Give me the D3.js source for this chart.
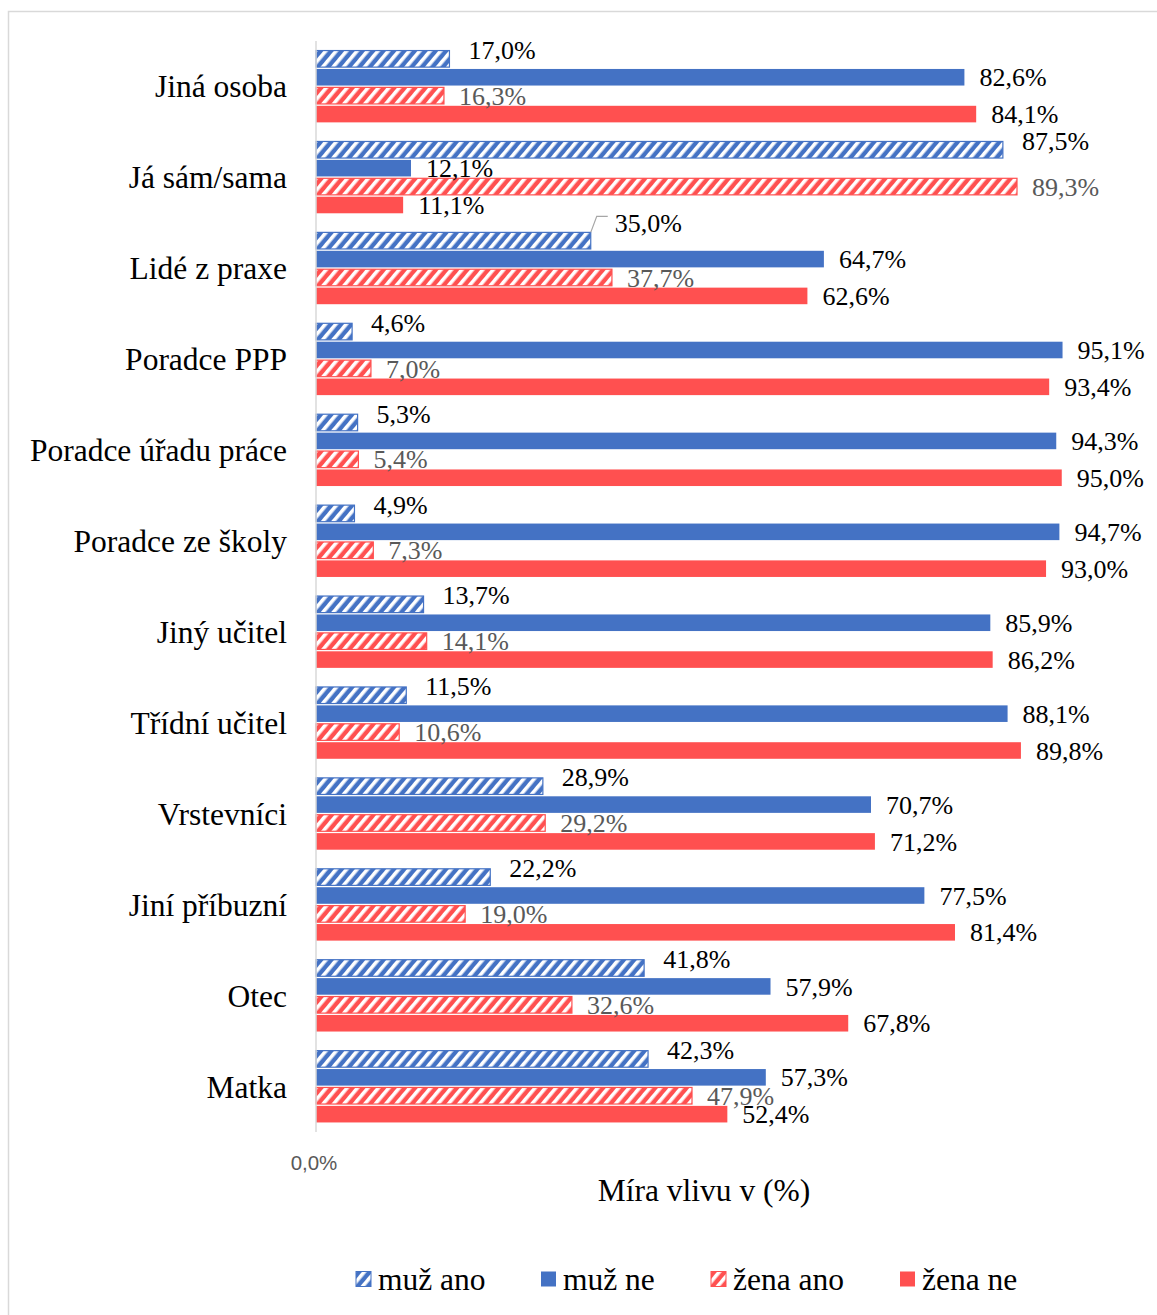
<!DOCTYPE html>
<html>
<head>
<meta charset="utf-8">
<script src="https://cdn.jsdelivr.net/npm/d3@7"></script>
<style>
  body { margin: 0; background: #fff; }
</style>
</head>
<body>
<svg id="chart"></svg>
<script>
var categories = ['Jiná osoba', 'Já sám/sama', 'Lidé z praxe', 'Poradce PPP', 'Poradce úřadu práce',
  'Poradce ze školy', 'Jiný učitel', 'Třídní učitel', 'Vrstevníci', 'Jiní příbuzní', 'Otec', 'Matka']
var seriesNames = ['muž ano', 'muž ne', 'žena ano', 'žena ne']
var muzAno  = [17.0, 87.5, 35.0, 4.6, 5.3, 4.9, 13.7, 11.5, 28.9, 22.2, 41.8, 42.3]
var muzNe   = [82.6, 12.1, 64.7, 95.1, 94.3, 94.7, 85.9, 88.1, 70.7, 77.5, 57.9, 57.3]
var zenaAno = [16.3, 89.3, 37.7, 7.0, 5.4, 7.3, 14.1, 10.6, 29.2, 19.0, 32.6, 47.9]
var zenaNe  = [84.1, 11.1, 62.6, 93.4, 95.0, 93.0, 86.2, 89.8, 71.2, 81.4, 67.8, 52.4]
var xTicks = [0]

var series = [muzAno, muzNe, zenaAno, zenaNe]
var colors = ['#4472C4', '#4472C4', '#FF5050', '#FF5050']
var hatched = [true, false, true, false]
var serif = '"Liberation Serif", "Times New Roman", serif'

var W = 1157, H = 1315
var svg = d3.select('#chart').attr('width', W).attr('height', H)
var margin = {left: 316, top: 41, right: 56, bottom: 183}

var x = d3.scaleLinear().domain([0, 100]).range([margin.left, W - margin.right])
var y = d3.scaleBand().domain(categories).range([margin.top, H - margin.bottom]).paddingInner(0.21).paddingOuter(0.105)
var ySub = d3.scaleBand().domain(d3.range(4)).range([0, y.bandwidth()]).paddingInner(0.1)

// hatch patterns
var defs = svg.append('defs')
;['blue', 'red'].forEach(function(n, i) {
  var c = i == 0 ? '#4472C4' : '#FF5050'
  var p = defs.append('pattern').attr('id', 'hatch-' + n)
    .attr('patternUnits', 'userSpaceOnUse').attr('width', 8).attr('height', 8)
    .attr('patternTransform', 'rotate(40)')
  p.append('rect').attr('width', 8).attr('height', 8).attr('fill', c)
  p.append('rect').attr('x', 0).attr('width', 3.6).attr('height', 8).attr('fill', '#fff')
})
function fillFor(i) {
  if (!hatched[i]) return colors[i]
  return i == 0 ? 'url(#hatch-blue)' : 'url(#hatch-red)'
}

// frame
svg.append('rect').attr('x', 8.5).attr('y', 11.5).attr('width', W).attr('height', H)
  .attr('fill', 'none').attr('stroke', '#d9d9d9').attr('stroke-width', 1.5)

// bars
var groups = svg.selectAll('g.cat').data(categories).enter().append('g')
  .attr('class', 'cat').attr('transform', function(d) { return 'translate(0,' + y(d) + ')' })

series.forEach(function(s, i) {
  groups.append('rect')
    .attr('x', x(0))
    .attr('y', ySub(i))
    .attr('width', function(d, j) { return x(s[j]) - x(0) })
    .attr('height', ySub.bandwidth())
    .attr('fill', fillFor(i))
    .attr('stroke', hatched[i] ? colors[i] : 'none')
    .attr('stroke-width', 1.2)
})

// axis line
svg.append('line').attr('x1', x(0)).attr('x2', x(0))
  .attr('y1', margin.top).attr('y2', H - margin.bottom)
  .attr('stroke', '#d9d9d9').attr('stroke-width', 1.5)

// data labels (muž ano labels sit a bit above their bar, like in the source)
var li = categories.indexOf('Lidé z praxe')
var fmt = function(v) { return d3.format('.1f')(v).replace('.', ',') + '%' }
series.forEach(function(s, i) {
  groups.append('text')
    .attr('x', function(d, j) {
      if (i == 0 && j == li) return x(s[j]) + 24
      return x(s[j]) + (i == 0 ? 19 : 15)
    })
    .attr('y', function(d, j) {
      var off = i == 0 ? (j == li ? -18 : -9) : 0
      return ySub(i) + ySub.bandwidth() / 2 + off
    })
    .attr('dy', '0.35em')
    .attr('font-family', serif).attr('font-size', 26)
    .attr('fill', i == 2 ? '#595959' : '#000')
    .text(function(d, j) { return fmt(s[j]) })
})

// leader line for Lidé z praxe
var ly = y(categories[li]) + ySub(0)
svg.append('polyline')
  .attr('points', [[x(muzAno[li]), ly], [x(muzAno[li]) + 6, ly - 16], [x(muzAno[li]) + 17, ly - 16]].join(' '))
  .attr('fill', 'none').attr('stroke', '#a6a6a6').attr('stroke-width', 1.2)

// category labels
svg.append('g').selectAll('text').data(categories).enter().append('text')
  .attr('x', 287).attr('y', function(d) { return y(d) + y.bandwidth() / 2 })
  .attr('dy', '0.35em').attr('text-anchor', 'end')
  .attr('font-family', serif).attr('font-size', 31.5).attr('fill', '#000')
  .text(function(d) { return d })

// x tick label
svg.append('g').selectAll('text').data(xTicks).enter().append('text')
  .attr('x', function(d) { return x(d) - 2 }).attr('y', 1163).attr('dy', '0.35em')
  .attr('text-anchor', 'middle').attr('font-family', '"Liberation Sans", Arial, sans-serif')
  .attr('font-size', 20.5).attr('fill', '#595959')
  .text(function(d) { return fmt(d) })

// axis title
svg.append('text').attr('x', 704).attr('y', 1190).attr('dy', '0.35em')
  .attr('text-anchor', 'middle').attr('font-family', serif).attr('font-size', 31.5)
  .text('Míra vlivu v (%)')

// legend
var legendX = [356, 541, 711, 900]
var lg = svg.append('g').selectAll('g').data(seriesNames).enter().append('g')
  .attr('transform', function(d, i) { return 'translate(' + legendX[i] + ',1279)' })
lg.append('rect').attr('x', 0).attr('y', -7.5).attr('width', 15).attr('height', 15)
  .attr('fill', function(d, i) { return fillFor(i) })
  .attr('stroke', function(d, i) { return hatched[i] ? colors[i] : 'none' })
lg.append('text').attr('x', 22).attr('dy', '0.35em')
  .attr('font-family', serif).attr('font-size', 31.5)
  .text(function(d) { return d })
</script>
</body>
</html>
